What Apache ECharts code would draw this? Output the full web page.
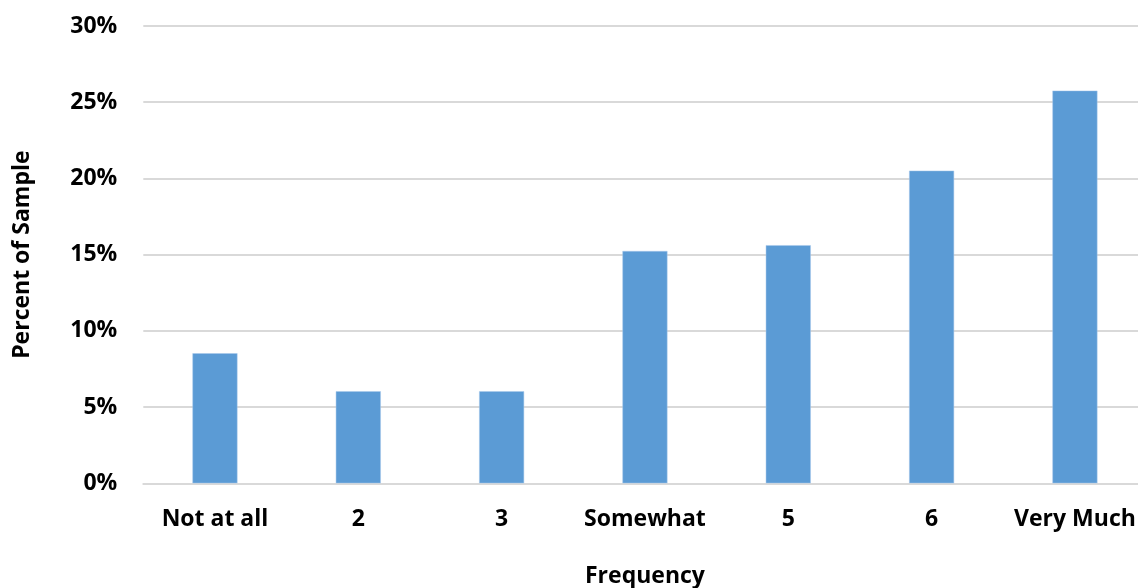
<!DOCTYPE html>
<html>
<head>
<meta charset="utf-8">
<script src="https://cdn.jsdelivr.net/npm/echarts@6/dist/echarts.min.js"></script>
<style>html,body{margin:0;padding:0;background:#fff;}#c{width:1138px;height:588px;}</style>
</head>
<body>
<div id="c"></div>
<script>
const categories = ['Not at all', '2', '3', 'Somewhat', '5', '6', 'Very Much'];
const percents = [8.53, 6.04, 6.04, 15.24, 15.62, 20.51, 25.76];
const yTicks = [0, 5, 10, 15, 20, 25, 30];

const chart = echarts.init(document.getElementById('c'));
const font = '"Open Sans", "Liberation Sans", sans-serif';
chart.setOption({
  animation: false,
  grid: { left: 143.3, width: 1003.3, top: 26, height: 457.3, containLabel: false, outerBoundsMode: 'none' },
  xAxis: {
    type: 'category',
    data: categories,
    name: 'Frequency',
    nameLocation: 'middle',
    nameGap: 82,
    nameTextStyle: { fontFamily: font, fontWeight: 'bold', fontSize: 23, color: '#000' },
    axisLine: { lineStyle: { color: '#d9d9d9', width: 2 } },
    axisTick: { show: false },
    axisLabel: { fontFamily: font, fontWeight: 'bold', fontSize: 23, color: '#000', margin: 25, interval: 0 }
  },
  yAxis: {
    type: 'value',
    min: yTicks[0],
    max: yTicks[yTicks.length - 1],
    interval: 5,
    name: 'Percent of Sample',
    nameLocation: 'middle',
    nameGap: 109,
    nameRotate: 90,
    nameTextStyle: { fontFamily: font, fontWeight: 'bold', fontSize: 23, color: '#000' },
    axisLine: { show: false },
    axisTick: { show: false },
    axisLabel: { fontFamily: font, fontWeight: 'bold', fontSize: 23, color: '#000', margin: 26, formatter: v => v + '%' },
    splitLine: { lineStyle: { color: '#d9d9d9', width: 2 } }
  },
  series: [{
    type: 'bar',
    data: percents,
    barWidth: 45,
    itemStyle: { color: '#5b9bd5', borderColor: '#a9c8ea', borderWidth: 0.5 }
  }]
});
</script>
</body>
</html>
